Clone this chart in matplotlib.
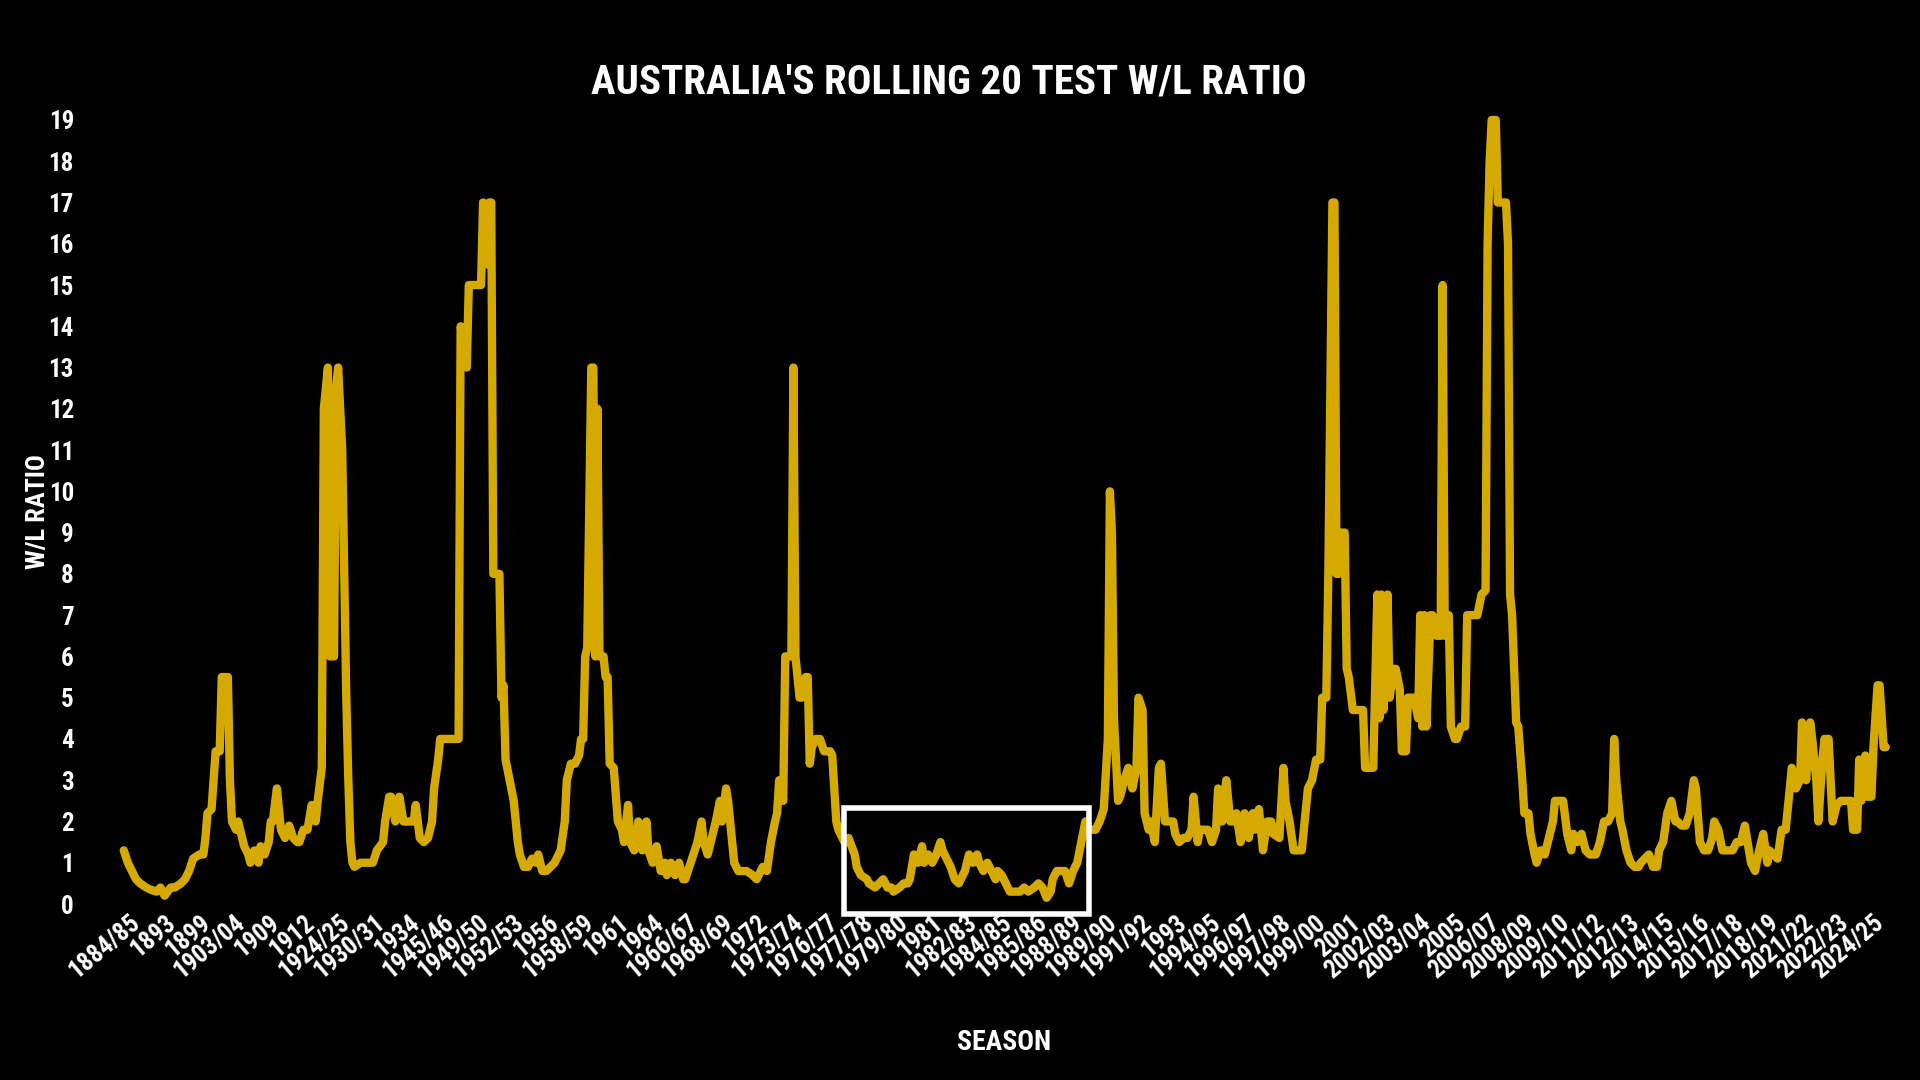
import matplotlib
matplotlib.use("Agg")
import matplotlib.pyplot as plt
from matplotlib import font_manager as fm
from matplotlib.patches import Rectangle
import numpy as np

# season labels shown along the x axis (one every ~17 tests)
seasons = ["1884/85", "1893", "1899", "1903/04", "1909", "1912", "1924/25", "1930/31",
           "1934", "1945/46", "1949/50", "1952/53", "1956", "1958/59", "1961", "1964",
           "1966/67", "1968/69", "1972", "1973/74", "1976/77", "1977/78", "1979/80", "1981",
           "1982/83", "1984/85", "1985/86", "1988/89", "1989/90", "1991/92", "1993", "1994/95",
           "1996/97", "1997/98", "1999/00", "2001", "2002/03", "2003/04", "2005", "2006/07",
           "2008/09", "2009/10", "2011/12", "2012/13", "2014/15", "2015/16", "2017/18",
           "2018/19", "2021/22", "2022/23", "2024/25"]

# test number and rolling 20 test W/L ratio
test_no = [
    20, 22, 24, 26, 28, 31, 33, 36, 38, 40, 43, 45, 48, 50, 52, 54, 57, 59, 60, 61,
    63, 65, 67, 68, 71, 72, 73, 75, 76, 78, 79, 81, 82, 84, 86, 87, 89, 91, 92, 93,
    95, 96, 97, 99, 101, 103, 105, 106, 108, 110, 112, 114, 115, 117, 118, 119, 120, 121, 123, 124,
    125, 126, 127, 129, 130, 131, 132, 133, 136, 139, 142, 144, 147, 148, 150, 151, 153, 155, 157, 159,
    160, 162, 163, 165, 167, 169, 171, 172, 174, 175, 178, 181, 184, 185, 187, 188, 189, 192, 195, 196,
    198, 199, 200, 201, 204, 205, 206, 207, 209, 211, 212, 213, 214, 216, 218, 220, 222, 223, 225, 227,
    229, 231, 232, 234, 236, 237, 239, 241, 243, 244, 245, 246, 247, 249, 250, 251, 252, 253, 255, 256,
    257, 258, 260, 262, 264, 265, 267, 268, 270, 272, 274, 276, 277, 279, 281, 283, 285, 286, 288, 290,
    292, 294, 295, 297, 299, 301, 303, 304, 306, 308, 310, 312, 313, 315, 316, 318, 319, 321, 323, 325,
    328, 330, 331, 333, 335, 337, 339, 340, 341, 343, 344, 346, 347, 348, 349, 351, 352, 354, 355, 356,
    357, 359, 361, 363, 366, 367, 369, 370, 372, 373, 375, 378, 379, 381, 384, 385, 388, 390, 392, 394,
    396, 397, 400, 402, 404, 405, 407, 409, 411, 412, 414, 416, 418, 420, 421, 423, 425, 427, 429, 430,
    432, 434, 436, 438, 439, 441, 443, 445, 447, 448, 450, 452, 454, 456, 459, 461, 463, 466, 468, 470,
    472, 474, 475, 477, 480, 481, 483, 485, 487, 489, 491, 493, 495, 496, 498, 500, 502, 503, 504, 505,
    507, 508, 510, 512, 514, 516, 517, 519, 520, 522, 523, 525, 527, 528, 530, 532, 534, 535, 537, 539,
    541, 543, 544, 546, 547, 549, 551, 553, 555, 556, 558, 560, 562, 564, 565, 567, 569, 571, 573, 574,
    576, 578, 580, 582, 583, 586, 588, 589, 591, 593, 595, 597, 598, 600, 602, 604, 606, 607, 609, 610,
    612, 613, 614, 615, 616, 618, 619, 620, 622, 625, 627, 628, 632, 634, 635, 636, 637, 639, 640, 642,
    643, 645, 646, 648, 649, 651, 652, 654, 655, 656, 657, 658, 660, 661, 663, 665, 666, 667, 669, 670,
    672, 673, 675, 677, 678, 681, 683, 685, 687, 688, 689, 690, 692, 693, 696, 697, 698, 699, 700, 702,
    703, 705, 706, 708, 709, 711, 712, 714, 716, 718, 720, 721, 723, 725, 727, 729, 730, 732, 734, 736,
    738, 739, 741, 743, 745, 747, 749, 750, 751, 753, 754, 756, 758, 760, 762, 763, 765, 767, 769, 771,
    772, 774, 776, 778, 780, 781, 783, 785, 787, 789, 790, 792, 794, 796, 798, 799, 801, 803, 805, 807,
    808, 810, 812, 814, 816, 817, 819, 821, 823, 825, 826, 828, 830, 832, 834, 835, 837, 839, 841, 842,
    844, 846, 847, 849, 850, 852, 853, 855, 857, 859, 861, 862, 864, 866, 867, 869, 870, 871, 873, 874,
    876, 877, 879, 880, 882, 883,
]
wl_ratio = [
    1.3, 1.0, 0.8, 0.6, 0.5, 0.4, 0.35, 0.3, 0.4, 0.2, 0.4, 0.4, 0.5, 0.6, 0.8, 1.1, 1.2, 1.2, 1.6, 2.2,
    2.3, 3.7, 3.7, 5.5, 5.5, 3.0, 2.0, 1.8, 2.0, 1.6, 1.4, 1.2, 1.0, 1.3, 1.0, 1.4, 1.2, 1.5, 2.0, 2.0,
    2.8, 2.3, 1.8, 1.6, 1.9, 1.6, 1.5, 1.5, 1.8, 1.8, 2.4, 2.0, 2.5, 3.3, 12.0, 12.5, 13.0, 6.0, 6.0, 12.5,
    13.0, 12.0, 11.0, 5.0, 3.0, 1.5, 1.0, 0.9, 1.0, 1.0, 1.0, 1.3, 1.5, 2.0, 2.6, 2.6, 2.0, 2.6, 2.0, 2.0,
    2.0, 2.0, 2.4, 1.6, 1.5, 1.6, 2.0, 2.8, 3.5, 4.0, 4.0, 4.0, 4.0, 14.0, 13.5, 13.0, 15.0, 15.0, 15.0, 17.0,
    15.5, 17.0, 17.0, 8.0, 8.0, 5.0, 5.3, 3.5, 3.0, 2.5, 2.0, 1.5, 1.2, 0.9, 0.9, 1.1, 1.0, 1.2, 0.8, 0.8,
    0.9, 1.0, 1.1, 1.3, 2.0, 3.0, 3.4, 3.4, 3.6, 4.0, 4.0, 6.0, 6.2, 13.0, 13.0, 6.0, 12.0, 6.0, 6.0, 5.5,
    5.5, 3.4, 3.3, 2.0, 1.8, 1.5, 2.4, 1.5, 1.3, 2.0, 1.3, 2.0, 1.3, 1.0, 1.4, 0.8, 1.0, 0.7, 1.0, 0.7,
    1.0, 0.6, 0.6, 0.9, 1.2, 1.5, 2.0, 1.5, 1.2, 1.6, 2.0, 2.5, 2.0, 2.8, 2.5, 1.5, 1.0, 0.8, 0.8, 0.8,
    0.7, 0.6, 0.7, 0.9, 0.8, 1.5, 2.0, 2.2, 3.0, 2.5, 6.0, 6.0, 6.0, 13.0, 6.0, 5.0, 5.0, 5.5, 5.5, 3.4,
    3.8, 4.0, 4.0, 3.7, 3.7, 3.6, 2.0, 1.8, 1.6, 1.5, 1.6, 1.2, 0.9, 0.7, 0.6, 0.5, 0.4, 0.5, 0.6, 0.4,
    0.4, 0.3, 0.4, 0.5, 0.5, 0.6, 1.2, 1.0, 1.4, 1.0, 1.2, 1.0, 1.2, 1.5, 1.3, 1.1, 0.9, 0.6, 0.5, 0.6,
    0.8, 1.2, 1.0, 1.2, 1.0, 0.8, 1.0, 0.8, 0.6, 0.8, 0.7, 0.5, 0.3, 0.3, 0.3, 0.4, 0.3, 0.4, 0.5, 0.4,
    0.15, 0.3, 0.6, 0.8, 0.8, 0.8, 0.5, 0.8, 1.0, 1.5, 2.0, 1.8, 1.8, 1.8, 2.0, 2.3, 4.0, 10.0, 9.0, 4.5,
    2.5, 2.6, 3.0, 3.3, 2.8, 3.3, 5.0, 4.7, 2.2, 1.8, 2.0, 1.5, 3.3, 3.4, 2.0, 2.0, 2.0, 1.7, 1.5, 1.6,
    1.6, 1.8, 2.6, 1.5, 1.8, 1.8, 1.8, 1.5, 1.8, 2.8, 2.0, 3.0, 2.0, 2.0, 2.2, 1.5, 2.2, 1.6, 2.2, 1.8,
    2.3, 1.3, 2.0, 2.0, 1.7, 1.6, 3.3, 2.5, 2.0, 1.3, 1.3, 1.3, 1.8, 2.8, 3.0, 3.5, 3.5, 5.0, 5.0, 8.0,
    17.0, 17.0, 8.0, 8.0, 9.0, 9.0, 5.7, 5.5, 4.7, 4.7, 4.7, 3.3, 3.3, 7.5, 4.5, 7.5, 4.7, 7.5, 5.0, 5.7,
    5.7, 5.2, 3.7, 3.7, 5.0, 5.0, 5.0, 4.5, 7.0, 4.3, 7.0, 4.3, 7.0, 7.0, 6.5, 6.5, 15.0, 6.5, 7.0, 4.3,
    4.0, 4.0, 4.3, 4.3, 7.0, 7.0, 7.0, 7.5, 7.6, 16.0, 18.0, 19.0, 19.0, 17.0, 17.0, 17.0, 16.0, 7.5, 7.0, 4.4,
    4.3, 3.0, 2.2, 2.2, 1.7, 1.2, 1.0, 1.3, 1.2, 1.6, 2.0, 2.5, 2.5, 2.5, 1.7, 1.3, 1.7, 1.5, 1.7, 1.3,
    1.2, 1.2, 1.2, 1.5, 2.0, 2.0, 2.2, 4.0, 3.0, 2.0, 1.8, 1.3, 1.0, 0.9, 0.9, 1.0, 1.1, 1.2, 0.9, 0.9,
    1.3, 1.5, 2.2, 2.5, 2.0, 2.0, 1.9, 1.9, 2.2, 3.0, 2.8, 1.5, 1.3, 1.3, 1.6, 2.0, 1.8, 1.3, 1.3, 1.3,
    1.3, 1.5, 1.5, 1.9, 1.3, 1.0, 0.8, 1.3, 1.7, 1.0, 1.3, 1.2, 1.1, 1.8, 1.8, 2.3, 3.3, 2.8, 3.0, 4.4,
    3.0, 4.4, 4.0, 3.0, 2.0, 3.5, 4.0, 4.0, 2.0, 2.4, 2.5, 2.5, 2.5, 2.5, 1.8, 1.8, 3.5, 2.5, 3.6, 2.6,
    2.6, 3.8, 5.3, 5.3, 3.8, 3.8,
]

# highlighted late-70s / 80s slump (test range, ratio range)
slump_tests = (373, 493)
slump_ratio = (-0.24, 2.32)

GOLD = "#D4AA00"

# pick a condensed bold face if one is installed
fonts = fm.fontManager.ttflist
names = {f.name for f in fonts}
if "Roboto Condensed" in names:
    FAM, STRETCH = "Roboto Condensed", "normal"
elif "Liberation Sans Narrow" in names:
    FAM, STRETCH = "Liberation Sans Narrow", "normal"
elif any(f.name == "DejaVu Sans" and f.stretch == "condensed" for f in fonts):
    FAM, STRETCH = "DejaVu Sans", "condensed"
else:
    FAM, STRETCH = "Roboto", "normal"

fig = plt.figure(figsize=(19.2, 10.8), dpi=100, facecolor="black")
ax = fig.add_axes([0.0602, 0.1534, 0.9262, 0.747])
ax.set_facecolor("black")

ax.plot(test_no, wl_ratio, color=GOLD, lw=6,
        solid_joinstyle="round", solid_capstyle="round", zorder=3)

ax.add_patch(Rectangle((slump_tests[0], slump_ratio[0]),
                       slump_tests[1] - slump_tests[0], slump_ratio[1] - slump_ratio[0],
                       fill=False, edgecolor="white", lw=4, zorder=4, clip_on=False))

ax.set_xlim(16, 887)
ax.set_ylim(-0.25, 19.3)

ax.set_yticks(range(0, 20))
ax.set_yticklabels([str(v) for v in range(0, 20)])
ax.set_xticks(np.linspace(26.6, 880.4, len(seasons)))
ax.set_xticklabels(seasons)

ax.tick_params(axis="both", length=0, colors="white")
ax.tick_params(axis="y", pad=30)
ax.tick_params(axis="x", pad=4)
for lab in ax.get_yticklabels():
    lab.set_fontfamily(FAM)
    lab.set_fontstretch(STRETCH)
    lab.set_fontweight("bold")
    lab.set_fontsize(18)
for lab in ax.get_xticklabels():
    lab.set_fontfamily(FAM)
    lab.set_fontstretch(STRETCH)
    lab.set_fontweight("bold")
    lab.set_fontsize(18)
    lab.set_rotation(40)
    lab.set_ha("right")
    lab.set_va("center")
    lab.set_rotation_mode("anchor")

for s in ax.spines.values():
    s.set_visible(False)

fig.text(0.494, 0.924, "AUSTRALIA'S ROLLING 20 TEST W/L RATIO", color="white",
         ha="center", va="center", fontsize=29.5, fontweight="bold",
         family=FAM, stretch=STRETCH)
fig.text(0.523, 0.035, "SEASON", color="white", ha="center", va="center",
         fontsize=20, fontweight="bold", family=FAM, stretch=STRETCH)
fig.text(0.02, 0.526, "W/L RATIO", color="white", ha="center", va="center",
         rotation=90, fontsize=19, fontweight="bold", family=FAM, stretch=STRETCH)

fig.savefig("out.png", dpi=100, facecolor="black")
